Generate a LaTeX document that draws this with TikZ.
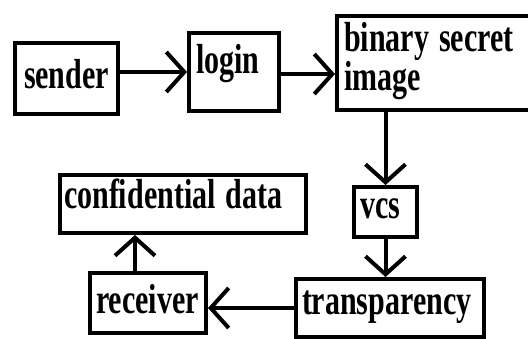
\documentclass[tikz,border=0pt]{standalone}
\usepackage{graphicx}
\usepackage{fontspec}
\setmainfont{Liberation Serif}
\newfontfamily\boxfont{Liberation Serif}[UprightFont=* Bold]
\usepackage{tikz}
\usetikzlibrary{arrows.meta}

\newcommand{\tallword}[1]{\scalebox{1}[1.4]{#1}}

\tikzset{
  blk/.style={draw, line width=4pt, anchor=north west, inner xsep=7pt, inner ysep=0pt,
    align=left, font=\boxfont\fontsize{30}{36}\selectfont},
  flow/.style={line width=4pt, -{Straight Barb[length=18pt,width=40pt,line width=4pt]}}
}

\begin{document}
\begin{tikzpicture}[x=1pt,y=-1pt]
\useasboundingbox (0,0) rectangle (528,339);
\node [blk, text width=89pt, align=center, text height=46pt, text depth=25pt] (sender) at (13,41) {\tallword{sender}};
\node [blk, text width=76pt, text height=41pt, text depth=37pt] (login) at (187,31) {\tallword{login}};
\node [blk, text width=186pt, text height=36pt, text depth=58pt] (secret) at (335,14)
  {\tallword{binary secret}\\[-1pt]\tallword{image}};
\node [blk, inner xsep=6pt, text width=51pt, text height=32pt, text depth=18pt] (vcs) at (352,185) {\tallword{vcs}};
\node [blk, inner xsep=6pt, text width=176pt, text height=36pt, text depth=22pt] (transp) at (294,277) {\tallword{transparency}};
\node [blk, inner xsep=6pt, text width=104pt, text height=41pt, text depth=19pt] (receiver) at (88,271) {\tallword{receiver}};
\node [blk, inner xsep=4pt, text width=238pt, text height=34pt, text depth=24pt] (data) at (58,173) {\tallword{confidential data}};
% arrows
\draw [flow] (sender.east |- login.west) -- (login.west);
\draw [flow] ([yshift=-2pt]login.east) -- ([yshift=-2pt]login.east -| secret.west);
\draw [flow] (vcs.north |- secret.south) -- (vcs.north);
\draw [flow] (vcs.south) -- (vcs.south |- transp.north);
\draw [flow] (transp.west) -- (transp.west -| receiver.east);
\draw [flow] ([xshift=-13pt]receiver.north) -- ([xshift=-13pt]receiver.north |- data.south);
\end{tikzpicture}
\end{document}
